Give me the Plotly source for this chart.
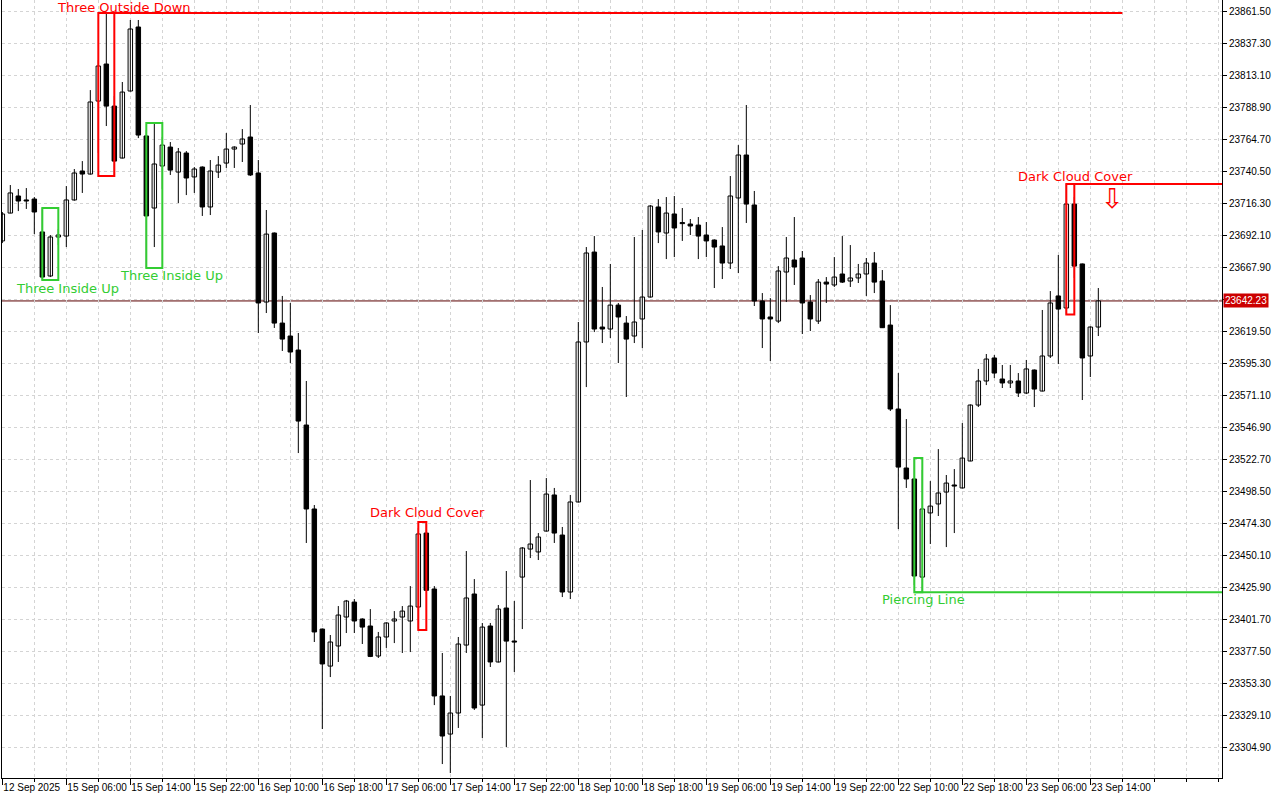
import plotly.graph_objects as go

# ---------------- data (hourly bars) ----------------
opens = [
    23687.6, 23708.7, 23721.6, 23718.6, 23719.3, 23694.4, 23661.1, 23690.6, 23691.3, 23718.6,
    23740.5, 23738.2, 23793.4, 23821.4, 23789.6, 23750.3, 23801.0, 23849.4, 23767.0, 23712.5,
    23744.3, 23758.6, 23739.7, 23754.1, 23736.0, 23743.5, 23713.3, 23739.7, 23746.5, 23757.1,
    23760.9, 23766.2, 23739.0, 23641.4, 23693.6, 23625.5, 23615.7, 23605.1, 23548.4, 23484.9,
    23394.1, 23366.1, 23381.3, 23403.2, 23414.5, 23401.7, 23396.4, 23373.7, 23388.1, 23400.2,
    23403.2, 23400.2, 23410.8, 23466.7, 23424.4, 23343.5, 23314.7, 23330.6, 23382.0, 23420.6,
    23336.6, 23396.4, 23369.2, 23410.0, 23385.0, 23433.4, 23454.6, 23452.4, 23468.2, 23495.5,
    23465.2, 23422.1, 23490.2, 23611.2, 23679.2, 23622.5, 23621.0, 23639.1, 23625.5, 23615.7,
    23628.6, 23645.2, 23713.3, 23693.6, 23708.0, 23701.2, 23700.4, 23699.6, 23692.1, 23688.3,
    23683.8, 23670.9, 23720.1, 23752.6, 23714.8, 23642.2, 23630.1, 23627.0, 23664.1, 23673.2,
    23674.7, 23641.4, 23627.0, 23656.5, 23654.3, 23662.6, 23657.3, 23659.6, 23662.6, 23670.9,
    23657.3, 23624.0, 23560.5, 23515.9, 23507.6, 23433.4, 23481.9, 23488.7, 23497.7, 23503.0,
    23500.8, 23521.2, 23563.5, 23581.7, 23599.1, 23583.2, 23580.2, 23581.7, 23572.6, 23590.0,
    23574.1, 23600.6, 23646.0, 23636.9, 23715.5, 23670.2, 23600.6, 23622.5,
]
highs = [
    23709.5, 23729.9, 23726.9, 23727.6, 23720.8, 23712.5, 23692.1, 23696.6, 23729.1, 23742.0,
    23748.0, 23801.7, 23824.4, 23860.0, 23797.2, 23807.8, 23854.7, 23854.7, 23771.5, 23776.8,
    23766.2, 23762.4, 23757.9, 23755.6, 23743.5, 23744.0, 23748.8, 23751.8, 23769.2, 23759.2,
    23772.2, 23790.4, 23748.8, 23711.0, 23694.0, 23646.0, 23640.7, 23618.0, 23581.7, 23487.9,
    23394.5, 23389.6, 23411.5, 23416.1, 23416.8, 23402.2, 23409.2, 23391.9, 23399.2, 23407.7,
    23411.5, 23426.6, 23470.5, 23475.0, 23426.6, 23376.0, 23343.5, 23388.1, 23453.1, 23431.9,
    23398.7, 23398.7, 23412.3, 23438.0, 23415.3, 23456.1, 23506.8, 23466.7, 23508.3, 23500.8,
    23471.3, 23495.5, 23626.3, 23683.0, 23691.3, 23652.8, 23670.2, 23640.7, 23630.8, 23690.6,
    23695.9, 23714.8, 23719.3, 23720.8, 23721.6, 23712.5, 23704.2, 23705.7, 23701.9, 23688.8,
    23698.1, 23736.7, 23760.1, 23790.4, 23725.4, 23648.2, 23644.4, 23668.6, 23690.6, 23705.7,
    23680.0, 23646.7, 23658.8, 23660.3, 23675.4, 23691.3, 23684.5, 23670.2, 23674.7, 23679.2,
    23665.6, 23639.1, 23587.7, 23552.9, 23523.4, 23514.4, 23506.0, 23530.2, 23510.6, 23515.1,
    23549.9, 23564.0, 23590.8, 23602.1, 23601.3, 23593.8, 23593.8, 23587.7, 23597.6, 23590.4,
    23635.4, 23649.7, 23677.0, 23730.7, 23720.8, 23670.5, 23623.0, 23652.0,
]
lows = [
    23686.0, 23708.5, 23710.2, 23711.8, 23692.8, 23658.1, 23660.3, 23684.5, 23683.0, 23718.0,
    23723.9, 23737.8, 23754.1, 23774.5, 23736.7, 23750.0, 23800.6, 23765.4, 23667.1, 23683.0,
    23726.9, 23737.5, 23716.3, 23722.3, 23723.9, 23706.5, 23707.2, 23735.2, 23742.8, 23742.8,
    23747.3, 23736.7, 23618.0, 23633.1, 23621.8, 23604.4, 23595.3, 23527.2, 23459.2, 23384.3,
    23318.5, 23357.8, 23369.2, 23391.1, 23391.1, 23382.8, 23372.9, 23372.2, 23379.8, 23383.5,
    23376.0, 23376.7, 23393.4, 23422.9, 23336.6, 23292.0, 23285.2, 23319.3, 23376.0, 23332.9,
    23311.7, 23365.4, 23368.8, 23304.9, 23361.6, 23394.1, 23447.8, 23446.3, 23467.8, 23459.2,
    23418.3, 23416.8, 23489.8, 23577.1, 23618.7, 23610.4, 23614.2, 23595.3, 23569.6, 23610.4,
    23606.6, 23644.8, 23686.0, 23673.9, 23675.4, 23687.6, 23692.1, 23673.9, 23675.4, 23652.0,
    23658.8, 23666.4, 23663.3, 23701.2, 23638.4, 23606.6, 23596.8, 23625.5, 23641.4, 23654.3,
    23617.2, 23619.5, 23624.8, 23640.7, 23652.8, 23655.8, 23652.8, 23655.8, 23646.0, 23648.2,
    23621.8, 23559.0, 23469.7, 23500.8, 23427.4, 23422.0, 23458.4, 23479.6, 23456.1, 23466.7,
    23500.5, 23521.0, 23562.0, 23578.6, 23583.9, 23576.4, 23576.4, 23569.6, 23571.8, 23562.0,
    23573.8, 23599.1, 23594.5, 23632.0, 23659.6, 23567.3, 23584.7, 23615.7,
]
closes = [
    23708.0, 23723.9, 23717.8, 23717.8, 23709.5, 23660.3, 23690.6, 23692.1, 23718.6, 23739.0,
    23738.2, 23792.7, 23819.9, 23789.6, 23748.0, 23800.2, 23847.9, 23767.7, 23706.5, 23745.8,
    23760.1, 23741.2, 23754.9, 23735.2, 23742.0, 23713.3, 23740.5, 23745.0, 23757.1, 23758.6,
    23764.7, 23737.5, 23640.7, 23692.8, 23625.5, 23613.4, 23603.6, 23551.4, 23484.9, 23391.9,
    23367.7, 23384.3, 23404.7, 23415.3, 23400.2, 23395.6, 23373.4, 23388.1, 23398.7, 23401.7,
    23407.7, 23411.5, 23466.0, 23423.4, 23343.5, 23313.2, 23330.6, 23382.8, 23417.6, 23334.4,
    23395.6, 23369.2, 23409.2, 23385.0, 23384.3, 23455.4, 23458.4, 23463.7, 23496.2, 23466.7,
    23422.1, 23490.2, 23611.2, 23678.5, 23621.0, 23621.0, 23639.1, 23630.1, 23613.4, 23626.3,
    23645.2, 23714.0, 23694.4, 23708.7, 23697.4, 23701.0, 23698.9, 23691.3, 23687.6, 23683.0,
    23670.9, 23721.6, 23752.6, 23715.5, 23642.2, 23628.6, 23628.6, 23664.9, 23674.7, 23667.9,
    23640.7, 23628.6, 23656.5, 23655.0, 23660.3, 23656.5, 23659.6, 23662.6, 23670.9, 23656.5,
    23622.0, 23560.5, 23516.6, 23507.6, 23434.2, 23484.9, 23487.1, 23497.0, 23504.5, 23502.3,
    23523.4, 23563.5, 23581.7, 23598.3, 23587.7, 23580.2, 23581.7, 23572.6, 23590.8, 23575.6,
    23600.6, 23640.7, 23636.1, 23715.5, 23668.6, 23599.1, 23622.5, 23642.23,
]

# one label every 8 bars
time_labels = [
    "12 Sep 2025", "15 Sep 06:00", "15 Sep 14:00", "15 Sep 22:00", "16 Sep 10:00",
    "16 Sep 18:00", "17 Sep 06:00", "17 Sep 14:00", "17 Sep 22:00", "18 Sep 10:00",
    "18 Sep 18:00", "19 Sep 06:00", "19 Sep 14:00", "19 Sep 22:00", "22 Sep 10:00",
    "22 Sep 18:00", "23 Sep 06:00", "23 Sep 14:00",
]
price_ticks = [
    23304.90, 23329.10, 23353.30, 23377.50, 23401.70, 23425.90, 23450.10, 23474.30,
    23498.50, 23522.70, 23546.90, 23571.10, 23595.30, 23619.50, 23643.70, 23667.90,
    23692.10, 23716.30, 23740.50, 23764.70, 23788.90, 23813.10, 23837.30, 23861.50,
]
# (name, first bar, last bar, direction)
patterns = [
    ("Three Inside Up", 5, 7, "bull"),
    ("Three Outside Down", 12, 14, "bear"),
    ("Three Inside Up", 18, 20, "bull"),
    ("Dark Cloud Cover", 52, 53, "bear"),
    ("Piercing Line", 114, 115, "bull"),
    ("Dark Cloud Cover", 133, 134, "bear"),
]

# ---------------- styling / layout config ----------------
RED = "#ff0000"
GREEN = "#32cd32"
GRID = "#d4d4d4"
FONT = "Liberation Sans, Arial, sans-serif"
LABEL_FONT = "DejaVu Sans, Verdana, sans-serif"
BAR_W = 0.56
X_RANGE = [-0.04, 152.46]
Y_RANGE = [23281.46, 23869.82]

n = len(closes)
idx = list(range(n))
tick_pos = [i * 8 for i in range(len(time_labels))]

fig = go.Figure()

# wicks
wx, wy = [], []
for i in idx:
    wx += [i, i, None]
    wy += [lows[i], highs[i], None]
fig.add_trace(go.Scatter(x=wx, y=wy, mode="lines",
                         line=dict(color="black", width=1),
                         hoverinfo="skip", showlegend=False))

# bodies
MIN_BODY = 0.8
for up in (True, False):
    xs, bases, hs = [], [], []
    for i in idx:
        if (closes[i] >= opens[i]) == up:
            lo = min(opens[i], closes[i])
            h = abs(closes[i] - opens[i])
            if h < MIN_BODY:
                lo -= (MIN_BODY - h) / 2
                h = MIN_BODY
            xs.append(i)
            bases.append(lo)
            hs.append(h)
    fig.add_trace(go.Bar(
        x=xs, y=hs, base=bases, width=BAR_W,
        marker=dict(color="white" if up else "black",
                    line=dict(color="black", width=1)),
        hoverinfo="skip", showlegend=False))

shapes = []
annotations = []

# pattern boxes
for name, a, b, kind in patterns:
    col = GREEN if kind == "bull" else RED
    top = max(highs[a:b + 1])
    bot = min(lows[a:b + 1])
    shapes.append(dict(type="rect", xref="x", yref="y", x0=a, x1=b, y0=bot, y1=top,
                       line=dict(color=col, width=2), layer="above"))

# extension lines
shapes.append(dict(type="line", xref="x", yref="y", x0=12, x1=140,
                   y0=max(highs[12:15]), y1=max(highs[12:15]),
                   line=dict(color=RED, width=2), layer="above"))
shapes.append(dict(type="line", xref="x", yref="y", x0=133, x1=X_RANGE[1],
                   y0=max(highs[133:135]), y1=max(highs[133:135]),
                   line=dict(color=RED, width=2), layer="above"))
shapes.append(dict(type="line", xref="x", yref="y", x0=114, x1=X_RANGE[1],
                   y0=min(lows[114:116]), y1=min(lows[114:116]),
                   line=dict(color=GREEN, width=2), layer="above"))

# current price line
last = closes[-1]
shapes.append(dict(type="line", xref="paper", yref="y", x0=0, x1=1, y0=last, y1=last,
                   line=dict(color="#5a0000", width=1), layer="between"))

# pattern labels (x in bars, y in price)
label_pos = [
    (8.2, 23651.3), (15.2, 23864.5), (21.2, 23661.1),
    (53.2, 23481.9), (115.2, 23416.1), (134.2, 23736.7),
]
for (name, a, b, kind), (lx, ly) in zip(patterns, label_pos):
    annotations.append(dict(x=lx, y=ly, xref="x", yref="y", text=name, showarrow=False,
                            font=dict(family=LABEL_FONT, size=13,
                                      color=GREEN if kind == "bull" else RED),
                            xanchor="center", yanchor="middle"))

# sell arrow
annotations.append(dict(x=138.8, y=23720.0, xref="x", yref="y", text="⇩", showarrow=False,
                        font=dict(family="DejaVu Sans", size=27, color=RED),
                        xanchor="center", yanchor="middle"))

# current price tag
annotations.append(dict(x=1, y=last, xref="paper", yref="y", text=f"{last:.2f}",
                        showarrow=False, xanchor="left", yanchor="middle", xshift=1,
                        bgcolor="#cc0000", borderpad=1,
                        font=dict(family=FONT, size=10, color="white")))

ytext = [f"{v:.2f}" for v in price_ticks]
ytext[price_ticks.index(23643.70)] = ""

fig.update_layout(
    width=1280, height=800, autosize=False,
    margin=dict(l=2, r=58, t=0, b=22, autoexpand=False),
    paper_bgcolor="white", plot_bgcolor="white",
    barmode="overlay", bargap=0,
    showlegend=False,
    shapes=shapes, annotations=annotations,
    font=dict(family=FONT, size=10, color="black"),
    xaxis=dict(
        range=X_RANGE, fixedrange=True, automargin=False,
        tickmode="array", tickvals=tick_pos, ticktext=time_labels,
        tickangle=0,
        ticks="outside", ticklen=6, tickcolor="black", tickwidth=1,
        ticklabelposition="outside right",
        tickfont=dict(family=FONT, size=10, color="black"),
        showline=True, linecolor="black", linewidth=1,
        showgrid=True, gridcolor=GRID, griddash="3px,3px", gridwidth=1,
        zeroline=False,
        minor=dict(tickmode="linear", tick0=0, dtick=4, ticks="outside", ticklen=3,
                   tickcolor="black", showgrid=True, gridcolor=GRID,
                   griddash="3px,3px", gridwidth=1),
    ),
    yaxis=dict(
        range=Y_RANGE, fixedrange=True, side="right", automargin=False,
        tickmode="array", tickvals=price_ticks, ticktext=ytext,
        ticks="outside", ticklen=4, tickcolor="black",
        tickfont=dict(family=FONT, size=10, color="black"),
        showline=True, mirror=True, linecolor="black", linewidth=1,
        showgrid=True, gridcolor=GRID, griddash="3px,3px", gridwidth=1,
        zeroline=False,
    ),
)

fig.write_html("out.html",
               config={"displayModeBar": False, "staticPlot": True},
               post_script="document.body.style.margin='0';document.body.style.overflow='hidden';")
